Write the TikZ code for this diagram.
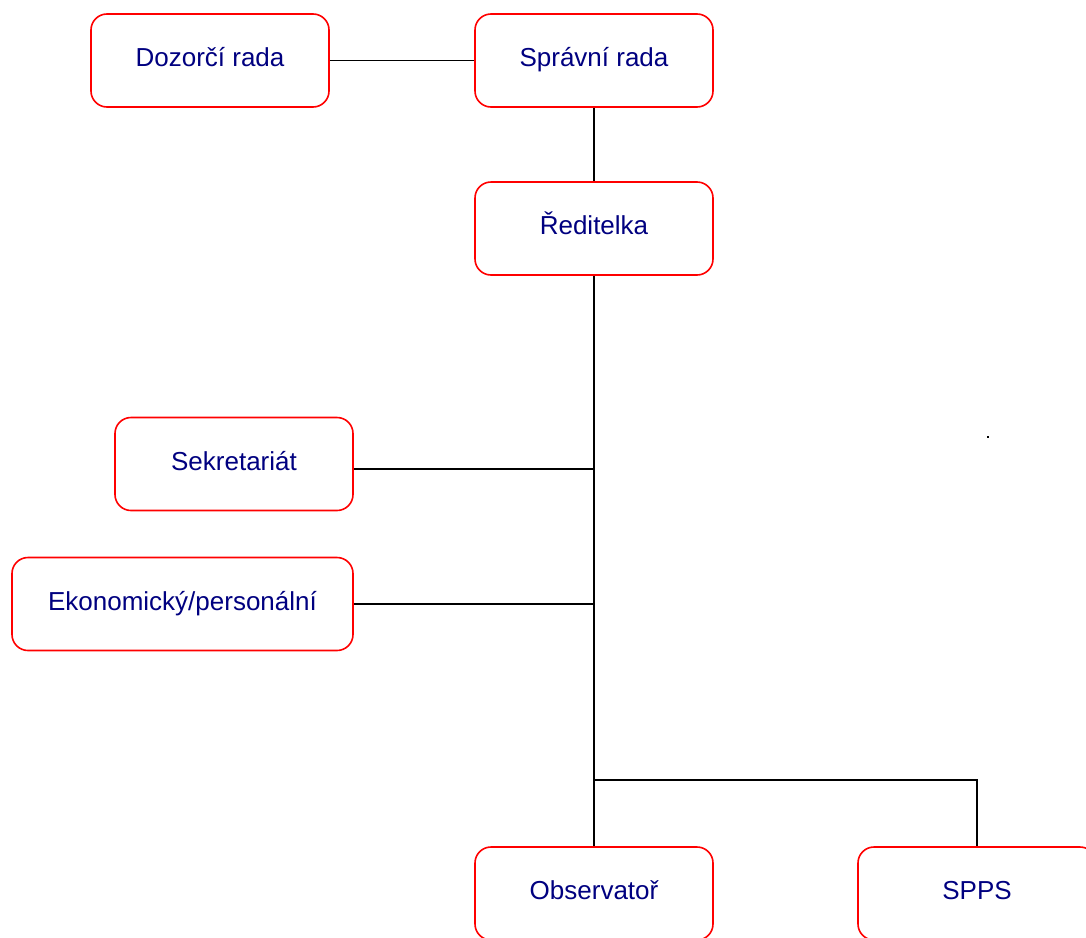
\documentclass[tikz,border=0pt]{standalone}
\usepackage{fontspec}
\setmainfont{Liberation Sans}
\definecolor{unitblue}{RGB}{0,0,128}
\definecolor{unitred}{RGB}{255,0,0}
\tikzstyle{unit}=[draw=unitred,line width=1.6pt,rounded corners=16pt,
  fill=white,text=unitblue,minimum width=238pt,minimum height=93pt,
  inner sep=0pt,text height=19pt,text depth=6.4pt,
  font=\fontsize{26}{30}\selectfont]
\tikzstyle{link}=[draw=black,line width=1.3pt]

\begin{document}
\begin{tikzpicture}[x=1pt,y=-1pt]
  \useasboundingbox (0,0) rectangle (1086,937);

  \node[unit] (dozor) at (210,60.5) {Dozorčí rada};
  \node[unit] (spravni) at (594,60.5) {Správní rada};
  \node[unit] (reditel) at (594,228.5) {Ředitelka};
  \node[unit] (sekret) at (234,464) {Sekretariát};
  \node[unit,minimum width=341pt] (ekonom) at (182.5,604) {Ekonomický/personální};
  \node[unit] (observ) at (594,893.5) {Observatoř};
  \node[unit] (spps) at (977,893.5) {SPPS};

  \coordinate (sekretend) at ([yshift=-5pt]sekret.east);
  \coordinate (branch) at (594,780);

  \draw[link] (dozor) -- (spravni);
  \draw[link] (spravni) -- (reditel);
  \draw[link] (reditel) -- (observ);
  \draw[link] (sekretend) -- (sekretend -| reditel.south);
  \draw[link] (ekonom.east) -- (ekonom.east -| reditel.south);
  \draw[link] (branch) -| (spps.north);

  \fill (987,436) rectangle (989,438);
\end{tikzpicture}
\end{document}
